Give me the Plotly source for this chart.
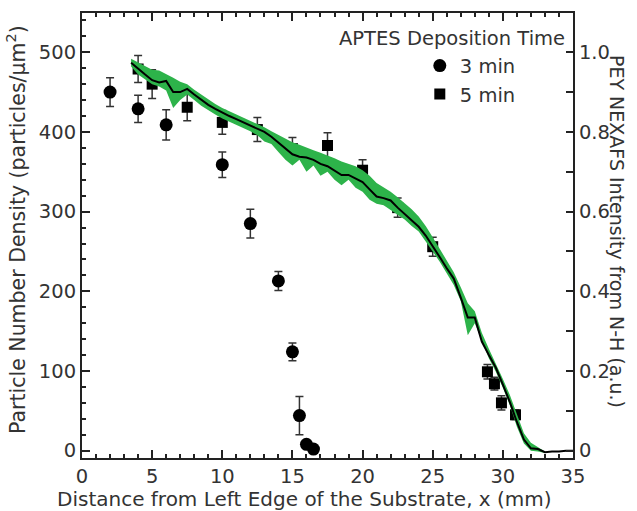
import plotly.graph_objects as go

# ---- Data: particle number density (left axis) ----
x_3min = [2, 4, 6, 10, 12, 14, 15, 15.5, 16, 16.5]
y_3min = [450, 429, 409, 359, 285, 213, 124, 44, 8, 2]
e_3min = [18, 17, 19, 16, 18, 12, 11, 24, 4, 3]

x_5min = [4, 5, 7.5, 10, 12.5, 15, 17.5, 20, 22.5, 25, 28.9, 29.4, 29.9, 30.9]
y_5min = [479, 460, 431, 412, 403, 379, 383, 352, 305, 256, 99, 84, 60, 45]
e_5min = [17, 18, 17, 15, 15, 14, 16, 13, 12, 12, 9, 8, 9, 6]

# ---- Data: PEY NEXAFS intensity from N-H (right axis, a.u.) ----
x_nex = [3.5, 4.0, 4.5, 5.0, 5.5, 6.0, 6.5, 7.0, 7.5, 8.0, 8.5, 9.0, 9.5, 10.0,
         10.5, 11.0, 11.5, 12.0, 12.5, 13.0, 13.5, 14.0, 14.5, 15.0, 15.5, 16.0,
         16.5, 17.0, 17.5, 18.0, 18.5, 19.0, 19.5, 20.0, 20.5, 21.0, 21.5, 22.0,
         22.5, 23.0, 23.5, 24.0, 24.5, 25.0, 25.5, 26.0, 26.5, 27.0, 27.5, 28.0,
         28.5, 29.0, 29.5, 30.0, 30.5, 31.0, 31.5, 32.0, 32.5, 33.0, 33.5, 34.0,
         34.5, 35.0]
nex_mean = [0.974, 0.958, 0.944, 0.930, 0.924, 0.928, 0.900, 0.900, 0.908, 0.894,
            0.880, 0.868, 0.858, 0.848, 0.840, 0.832, 0.824, 0.818, 0.810, 0.800,
            0.788, 0.774, 0.760, 0.744, 0.738, 0.736, 0.730, 0.720, 0.714, 0.704,
            0.692, 0.692, 0.684, 0.674, 0.656, 0.638, 0.634, 0.628, 0.610, 0.594,
            0.576, 0.562, 0.540, 0.514, 0.486, 0.458, 0.432, 0.384, 0.334, 0.334,
            0.274, 0.240, 0.208, 0.166, 0.122, 0.072, 0.028, 0.006, 0.004, -0.004,
            -0.002, -0.002, 0.000, 0.000]

x_band = [3.5, 4.0, 4.5, 5.0, 5.5, 6.0, 6.5, 7.0, 7.5, 8.0, 8.5, 9.0, 9.5, 10.0,
          10.5, 11.0, 11.5, 12.0, 12.5, 13.0, 13.5, 14.0, 14.5, 15.0, 15.5, 16.0,
          16.5, 17.0, 17.5, 18.0, 18.5, 19.0, 19.5, 20.0, 20.5, 21.0, 21.5, 22.0,
          22.5, 23.0, 23.5, 24.0, 24.5, 25.0, 25.5, 26.0, 26.5, 27.0, 27.5, 28.0,
          28.5, 29.0, 29.5, 30.0, 30.5, 31.0, 31.5, 32.0, 32.5, 33.0]
nex_upper = [0.984, 0.974, 0.964, 0.956, 0.954, 0.946, 0.936, 0.926, 0.920, 0.906,
             0.894, 0.880, 0.870, 0.860, 0.852, 0.844, 0.836, 0.830, 0.822, 0.812,
             0.802, 0.792, 0.784, 0.774, 0.768, 0.760, 0.754, 0.748, 0.742, 0.734,
             0.726, 0.720, 0.714, 0.704, 0.690, 0.672, 0.662, 0.650, 0.636, 0.622,
             0.606, 0.588, 0.564, 0.536, 0.506, 0.476, 0.448, 0.410, 0.370, 0.350,
             0.296, 0.256, 0.220, 0.180, 0.140, 0.090, 0.044, 0.020, 0.010, -0.002]
nex_lower = [0.964, 0.944, 0.932, 0.920, 0.914, 0.904, 0.860, 0.880, 0.894, 0.880,
             0.866, 0.854, 0.844, 0.834, 0.824, 0.818, 0.810, 0.802, 0.792, 0.776,
             0.770, 0.750, 0.730, 0.716, 0.730, 0.700, 0.716, 0.690, 0.700, 0.680,
             0.666, 0.680, 0.660, 0.650, 0.630, 0.620, 0.616, 0.604, 0.592, 0.580,
             0.564, 0.550, 0.526, 0.500, 0.474, 0.446, 0.416, 0.376, 0.290, 0.320,
             0.274, 0.232, 0.198, 0.158, 0.114, 0.060, 0.018, 0.000, -0.002, -0.006]

x_ticks = [0, 5, 10, 15, 20, 25, 30, 35]
y_ticks = [0, 100, 200, 300, 400, 500]
y2_ticks = [0, 0.2, 0.4, 0.6, 0.8, 1.0]
y2_ticktext = ["0", "0.2", "0.4", "0.6", "0.8", "1.0"]

FONT = "DejaVu Sans"
TXT = "#333333"
AX = "#222222"
GREEN = "#2db34a"
TICK_SIZE = 19.5
TITLE_SIZE = 20.5
XTITLE_SIZE = 20
RTITLE_SIZE = 19
LEG_SIZE = 19.5

fig = go.Figure()

# green band (NEXAFS uncertainty)
fig.add_trace(go.Scatter(
    x=x_band + x_band[::-1], y=nex_upper + nex_lower[::-1],
    fill="toself", fillcolor=GREEN, line=dict(width=0, color=GREEN),
    mode="lines", yaxis="y2", showlegend=False, hoverinfo="skip"))
# NEXAFS mean line
fig.add_trace(go.Scatter(
    x=x_nex, y=nex_mean, mode="lines", line=dict(color="black", width=2),
    yaxis="y2", showlegend=False))

# particle densities
fig.add_trace(go.Scatter(
    x=x_3min, y=y_3min, mode="markers", name="3 min",
    marker=dict(symbol="circle", size=13, color="black"),
    error_y=dict(type="data", array=e_3min, color="#333333", thickness=1.5, width=4)))
fig.add_trace(go.Scatter(
    x=x_5min, y=y_5min, mode="markers", name="5 min",
    marker=dict(symbol="square", size=11, color="black"),
    error_y=dict(type="data", array=e_5min, color="#333333", thickness=1.5, width=4)))

fig.update_layout(
    width=637, height=511,
    margin=dict(l=82, r=64, t=13, b=53),
    paper_bgcolor="white", plot_bgcolor="white",
    font=dict(family=FONT, size=18, color=TXT),
    xaxis=dict(
        range=[0, 35], tickvals=x_ticks, ticks="inside", ticklen=8, tickwidth=2,
        tickcolor=AX, showline=True, linewidth=2, linecolor=AX, mirror="ticks",
        showgrid=False, zeroline=False, tickfont=dict(size=TICK_SIZE, color=TXT),
        minor=dict(dtick=1, tick0=0, ticks="inside", ticklen=4, tickwidth=1.5,
                   tickcolor=AX, showgrid=False)),
    yaxis=dict(
        range=[-9.2, 549.3], tickvals=y_ticks, ticks="inside", ticklen=8, tickwidth=2,
        tickcolor=AX, showline=True, linewidth=2, linecolor=AX,
        showgrid=False, zeroline=False, tickfont=dict(size=TICK_SIZE, color=TXT),
        minor=dict(dtick=20, tick0=0, ticks="inside", ticklen=4, tickwidth=1.5,
                   tickcolor=AX, showgrid=False)),
    yaxis2=dict(
        overlaying="y", side="right", range=[-0.0184, 1.0986],
        tickvals=y2_ticks, ticktext=y2_ticktext, ticks="inside", ticklen=7,
        tickwidth=2, tickcolor=AX, showline=True, linewidth=2, linecolor=AX,
        showgrid=False, zeroline=False, tickfont=dict(size=TICK_SIZE, color=TXT),
        minor=dict(dtick=0.1, tick0=0, ticks="inside", ticklen=7, tickwidth=1.5,
                   tickcolor=AX, showgrid=False)),
    legend=dict(x=0.688, y=0.925, xanchor="left", yanchor="top",
                bgcolor="rgba(0,0,0,0)", font=dict(size=LEG_SIZE, color=TXT),
                itemwidth=30, tracegroupgap=0),
    annotations=[
        dict(text="Particle Number Density (particles/μm<sup>2</sup>)", textangle=-90,
             xref="paper", yref="paper", x=-0.133, y=0.514, xanchor="center",
             yanchor="middle", showarrow=False, font=dict(size=TITLE_SIZE, color=TXT)),
        dict(text="PEY NEXAFS Intensity from N-H (a.u.)", textangle=90,
             xref="paper", yref="paper", x=1.0896, y=0.508, xanchor="center",
             yanchor="middle", showarrow=False, font=dict(size=RTITLE_SIZE, color=TXT)),
        dict(text="Distance from Left Edge of the Substrate, x (mm)",
             xref="paper", yref="paper", x=0.454, y=-0.0921, xanchor="center",
             yanchor="middle", showarrow=False, font=dict(size=XTITLE_SIZE, color=TXT)),
        dict(text="APTES Deposition Time",
             xref="paper", yref="paper", x=0.9878, y=0.9438, xanchor="right",
             yanchor="middle", showarrow=False, font=dict(size=LEG_SIZE, color=TXT)),
    ],
)

fig.write_html("out.html")
